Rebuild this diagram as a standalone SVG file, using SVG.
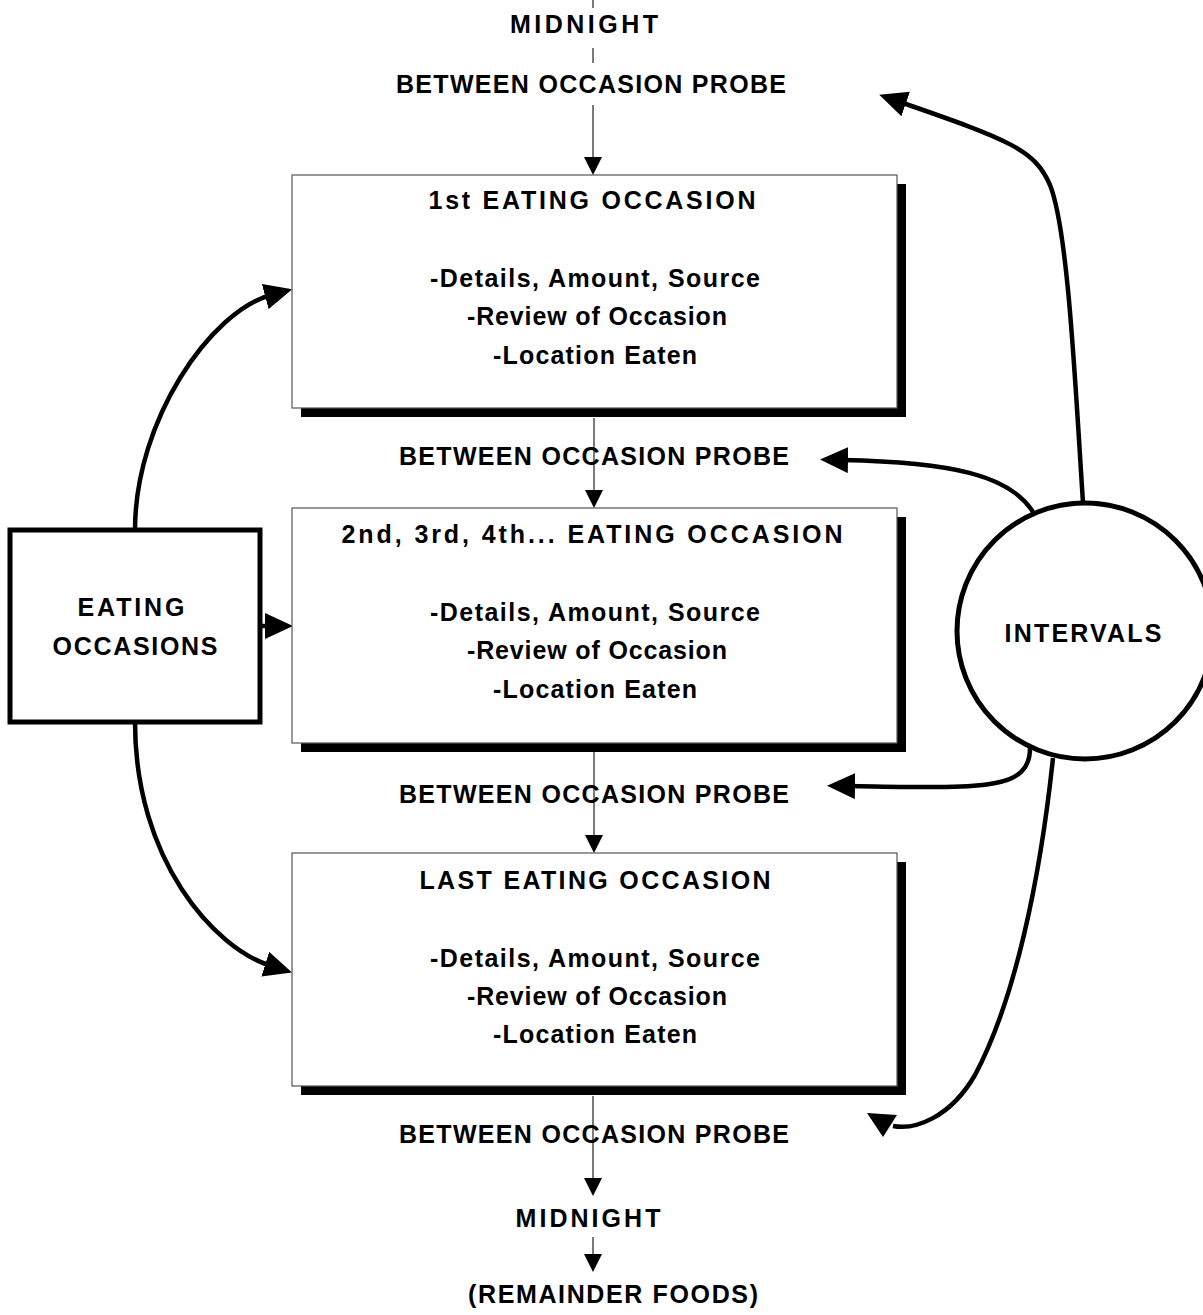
<svg xmlns="http://www.w3.org/2000/svg" width="1203" height="1315" viewBox="0 0 1203 1315">
<style>
  text { font-family: "Liberation Sans", Arial, sans-serif; font-size: 25px; font-weight: bold; fill: #000; text-anchor: middle; }
  .box { fill: #fff; stroke: #555; stroke-width: 1.2; }
  .shadow { fill: #000; }
  .thin { fill: none; stroke: #222; stroke-width: 1.2; }
  .thick { fill: none; stroke: #000; stroke-width: 4.5; }
  .node { fill: #fff; stroke: #000; stroke-width: 5; }
</style>
<defs>
  <marker id="thinHead" markerUnits="userSpaceOnUse" viewBox="0 0 18 18" markerWidth="18" markerHeight="18" refX="0" refY="9" orient="auto">
    <path d="M0,0 L18,9 L0,18 z" fill="#000"/>
  </marker>
  <marker id="thickHead" markerUnits="userSpaceOnUse" viewBox="0 0 28 26" markerWidth="28" markerHeight="26" refX="6" refY="13" orient="auto">
    <path d="M0,0 L28,13 L0,26 z" fill="#000"/>
  </marker>
  <marker id="downHead" markerUnits="userSpaceOnUse" viewBox="0 0 32 26" markerWidth="32" markerHeight="26" refX="26" refY="13">
    <path d="M0,0 L30,2 L16,24 z" fill="#000"/>
  </marker>
</defs>

<g id="connectors">
  <path class="thin" d="M593,0 L593,8"/>
  <path class="thin" d="M593,48 L593,63"/>
  <path class="thin" d="M593,105 L593,157" marker-end="url(#thinHead)"/>
  <path class="thin" d="M594,418 L594,490" marker-end="url(#thinHead)"/>
  <path class="thin" d="M594,752 L594,835" marker-end="url(#thinHead)"/>
  <path class="thin" d="M593,1096 L593,1178" marker-end="url(#thinHead)"/>
  <path class="thin" d="M593,1237 L593,1254" marker-end="url(#thinHead)"/>

  <path class="thick" d="M135,530 C135,420 211,311 271,295" marker-end="url(#thickHead)"/>
  <path class="thick" d="M260,626 L271,626" marker-end="url(#thickHead)"/>
  <path class="thick" d="M135,722 C135,860 214,948 271,966" marker-end="url(#thickHead)"/>

  <path class="thick" d="M1083,503 C1075,380 1068,230 1050,185 C1035,150 1010,140 900,102" marker-end="url(#thickHead)"/>
  <path class="thick" d="M1033,512 C1010,475 950,462 842,460" marker-end="url(#thickHead)"/>
  <path class="thick" d="M1030,748 C1030,792 980,788 849,786" marker-end="url(#thickHead)"/>
  <path class="thick" d="M1053,758 C1040,880 1015,1000 975,1075 C950,1118 915,1130 893,1126" marker-end="url(#downHead)"/>
</g>

<g id="midnight-top">
  <text x="584" y="33" textLength="148">MIDNIGHT</text>
</g>
<g id="probe-0">
  <text x="591" y="93" textLength="390">BETWEEN OCCASION PROBE</text>
</g>

<g id="occasion-1">
  <rect class="shadow" x="301" y="184" width="605" height="233"/>
  <rect class="box" x="292" y="175" width="605" height="233"/>
  <text x="592" y="209" textLength="327">1st EATING OCCASION</text>
  <text x="595" y="287" textLength="330">-Details, Amount, Source</text>
  <text x="597" y="325" textLength="260">-Review of Occasion</text>
  <text x="595" y="364" textLength="204">-Location Eaten</text>
</g>

<g id="probe-1">
  <text x="594" y="465" textLength="390">BETWEEN OCCASION PROBE</text>
</g>

<g id="occasion-2">
  <rect class="shadow" x="301" y="517" width="605" height="235"/>
  <rect class="box" x="292" y="508" width="605" height="235"/>
  <text x="592" y="543" textLength="501">2nd, 3rd, 4th... EATING OCCASION</text>
  <text x="595" y="621" textLength="330">-Details, Amount, Source</text>
  <text x="597" y="659" textLength="260">-Review of Occasion</text>
  <text x="595" y="698" textLength="204">-Location Eaten</text>
</g>

<g id="probe-2">
  <text x="594" y="803" textLength="390">BETWEEN OCCASION PROBE</text>
</g>

<g id="occasion-last">
  <rect class="shadow" x="301" y="862" width="605" height="233"/>
  <rect class="box" x="292" y="853" width="605" height="233"/>
  <text x="595" y="889" textLength="351">LAST EATING OCCASION</text>
  <text x="595" y="967" textLength="330">-Details, Amount, Source</text>
  <text x="597" y="1005" textLength="260">-Review of Occasion</text>
  <text x="595" y="1043" textLength="204">-Location Eaten</text>
</g>

<g id="probe-3">
  <text x="594" y="1143" textLength="390">BETWEEN OCCASION PROBE</text>
</g>

<g id="midnight-bottom">
  <text x="588" y="1227" textLength="145">MIDNIGHT</text>
</g>

<g id="remainder">
  <text x="613" y="1303" textLength="290">(REMAINDER FOODS)</text>
</g>

<g id="eating-occasions">
  <rect class="node" x="10" y="530" width="250" height="192"/>
  <text x="131" y="616" textLength="107">EATING</text>
  <text x="135" y="655" textLength="165">OCCASIONS</text>
</g>

<g id="intervals">
  <circle class="node" cx="1085" cy="631" r="128" stroke-width="4.5"/>
  <text x="1083" y="642" textLength="157">INTERVALS</text>
</g>
</svg>
